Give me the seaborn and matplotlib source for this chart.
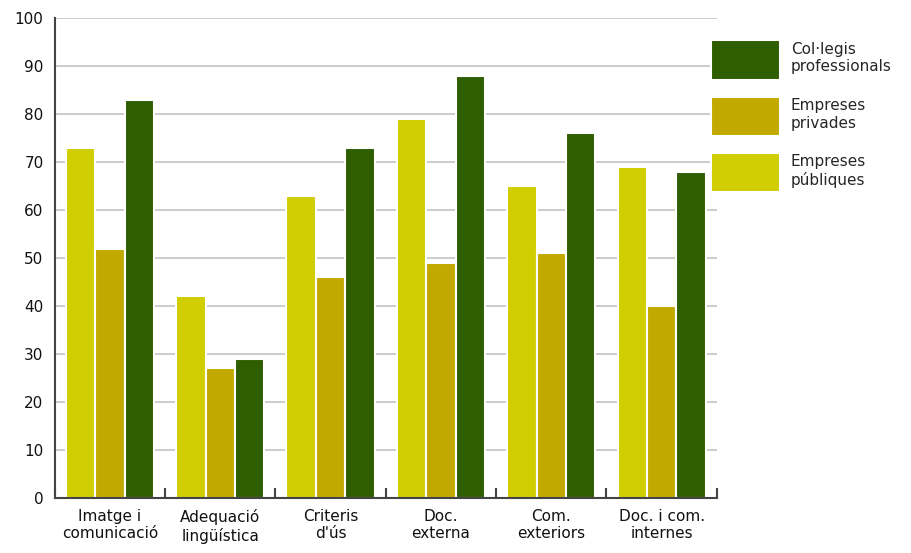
import seaborn as sns
import matplotlib.pyplot as plt
import pandas as pd

categories = ["Imatge i\ncomunicació", "Adequació\nlingüística", "Criteris\nd'ús",
              "Doc.\nexterna", "Com.\nexteriors", "Doc. i com.\ninternes"]
series = ["Empreses\npúbliques", "Empreses\nprivades", "Col·legis\nprofessionals"]
publiques = [73, 42, 63, 79, 65, 69]
privades = [52, 27, 46, 49, 51, 40]
collegis = [83, 29, 73, 88, 76, 68]
colors = ["#D0CD00", "#C1A900", "#2E5E00"]

df = pd.DataFrame({
    "cat": categories * 3,
    "serie": [s for s in series for _ in categories],
    "valor": publiques + privades + collegis,
})

sns.set_style("white")
fig = plt.figure(figsize=(9.12, 5.53), dpi=100)
ax = fig.add_axes([0.060, 0.0995, 0.726, 0.8675])

sns.barplot(data=df, x="cat", y="valor", hue="serie", order=categories,
            hue_order=series, palette=colors, width=0.8, saturation=1,
            edgecolor="white", linewidth=1.5, ax=ax, legend=True)

ax.set_ylim(0, 100)
ax.set_xlim(-0.5, 5.5)
ax.set_yticks(range(0, 101, 10))
ax.yaxis.grid(True, color="#c4c4c4", linewidth=1.2)
ax.set_axisbelow(True)
ax.set_xlabel("")
ax.set_ylabel("")
for s in ["top", "right"]:
    ax.spines[s].set_visible(False)
for s in ["left", "bottom"]:
    ax.spines[s].set_color("#444444")
    ax.spines[s].set_linewidth(1.5)
ax.tick_params(axis="both", length=0, labelsize=11, colors="#111111", pad=8)
ax.set_xticks([x + 0.5 for x in range(-1, 6)], minor=True)
ax.tick_params(axis="x", which="minor", bottom=True, direction="in", length=7,
               width=1.5, color="#444444")

handles, labels = ax.get_legend_handles_labels()
ax.legend_.remove()
fig.legend(handles[::-1], labels[::-1], loc="upper left", bbox_to_anchor=(0.765, 0.952),
           frameon=False, fontsize=11, handlelength=4.5, handleheight=3.6,
           labelspacing=1.1, handletextpad=0.7, borderpad=0.4)

fig.savefig("out.png", dpi=100)
